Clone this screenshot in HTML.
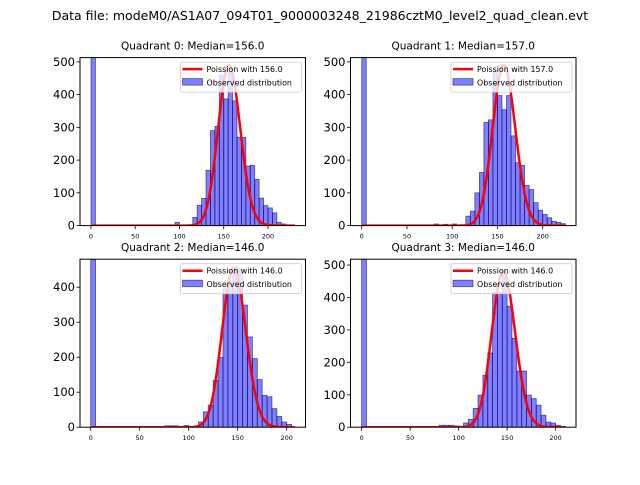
<!DOCTYPE html>
<html><head><meta charset="utf-8"><style>
body{margin:0;background:#fff;width:640px;height:480px;overflow:hidden}
svg{font-family:"DejaVu Sans","Liberation Sans",sans-serif}
</style></head><body>
<svg id="chart" width="640" height="480" xmlns="http://www.w3.org/2000/svg">
<text x="320" y="20" text-anchor="middle" font-size="12.5">Data file: modeM0/AS1A07_094T01_9000003248_21986cztM0_level2_quad_clean.evt</text>
</svg>
<script>
const binStarts0=[0,95,115,120,125,130,135,140,145,150,155,160,165,170,175,180,185,190,195,200,205,210,215];
const counts0=[1000,10,25,62,83,169,290,303,460,387,468,381,270,269,182,184,141,84,61,54,39,10,5];
const binStarts1=[0,80,90,100,115,120,125,130,135,140,145,150,155,160,165,170,175,180,185,190,195,200,205,210,215,220];
const counts1=[1000,5,4,5,29,44,100,162,315,323,473,397,354,397,274,192,184,123,110,70,47,34,24,13,10,6];
const binStarts2=[0,75,80,85,95,110,115,120,125,130,135,140,145,150,155,160,165,170,175,180,185,190,195,200];
const counts2=[1000,4,4,4,5,15,44,63,134,199,395,410,458,453,349,258,196,136,91,87,53,31,15,8];
const binStarts3=[0,80,85,90,95,105,110,115,120,125,130,135,140,145,150,155,160,165,170,175,180,185,190,195,200];
const counts3=[1000,6,6,6,4,13,24,58,99,160,229,415,415,474,373,274,173,173,99,88,68,37,16,13,6];
const medians=[156,157,146,146];
const curvePeaks=[490,490,455,480];
const curveEnds=[230,225,208,210];
const yTicks0=[0,100,200,300,400,500];
const yTicks2=[0,100,200,300,400];
const xTicks=[0,50,100,150,200];

const panels=[
 {b:binStarts0,c:counts0,L:80,R:305.5,T:57.6,B:225.6,x0:-12.4,x1:242.4,ymax:513,yt:yTicks0},
 {b:binStarts1,c:counts1,L:350.5,R:576,T:57.6,B:225.6,x0:-12.4,x1:236.8,ymax:513,yt:yTicks0},
 {b:binStarts2,c:counts2,L:80,R:305.5,T:259.2,B:427.2,x0:-10.9,x1:219.2,ymax:480,yt:yTicks2},
 {b:binStarts3,c:counts3,L:350.5,R:576,T:259.2,B:427.2,x0:-11.5,x1:221,ymax:518,yt:yTicks0}
];
const svg=document.getElementById('chart');
const NS='http://www.w3.org/2000/svg';
function mk(t,a,p){const e=document.createElementNS(NS,t);for(const k in a)e.setAttribute(k,a[k]);(p||svg).appendChild(e);return e;}
function lgam(n){let s=0;for(let i=2;i<=n;i++)s+=Math.log(i);return s;}
panels.forEach((p,qi)=>{
 const g=mk('g',{});
 
 
 const sx=v=>p.L+(v-p.x0)/(p.x1-p.x0)*(p.R-p.L);
 const sy=v=>p.B-Math.min(v,p.ymax)/p.ymax*(p.B-p.T);
 const clip=mk('clipPath',{id:'c'+qi},g);mk('rect',{x:p.L,y:p.T,width:p.R-p.L,height:p.B-p.T},clip);
 const bars=mk('g',{'clip-path':'url(#c'+qi+')'},g);
 p.b.forEach((s,i)=>{
  const r=mk('rect',{x:sx(s),y:sy(p.c[i]),width:sx(s+5)-sx(s),height:p.B-sy(p.c[i]),fill:'rgba(0,0,255,0.5)',stroke:'rgba(0,0,80,0.6)','stroke-width':0.8},bars);
  
  
 });
 const lam=medians[qi];const peakPmf=Math.exp(Math.floor(lam)*Math.log(lam)-lam-lgam(Math.floor(lam)));
 let d='';for(let k=0;k<=curveEnds[qi];k++){const pm=Math.exp(k*Math.log(Math.max(lam,1e-9))-lam-lgam(k));const v=pm/peakPmf*curvePeaks[qi];d+=(k?'L':'M')+sx(k+0.5).toFixed(2)+','+sy(v).toFixed(2);}
 const cv=mk('path',{d:d,fill:'none',stroke:'#ff0000','stroke-width':2.5,'clip-path':'url(#c'+qi+')'},g);
 
 
 mk('rect',{x:p.L,y:p.T,width:p.R-p.L,height:p.B-p.T,fill:'none',stroke:'#000','stroke-width':1},g);
 p.yt.forEach(v=>{const y=sy(v);mk('line',{x1:p.L-3.5,x2:p.L,y1:y,y2:y,stroke:'#000','stroke-width':0.8},g);
  const t=mk('text',{x:p.L-5,y:y+4,'text-anchor':'end','font-size':11.5},g);t.textContent=v;
  });
 xTicks.forEach(v=>{const x=sx(v);mk('line',{x1:x,x2:x,y1:p.B,y2:p.B+3.5,stroke:'#000','stroke-width':0.8},g);
  const t=mk('text',{x:x,y:p.B+13,'text-anchor':'middle','font-size':6.5},g);t.textContent=v;
  });
 const tt=mk('text',{x:(p.L+p.R)/2,y:p.T-8,'text-anchor':'middle','font-size':10.5},g);
 tt.textContent='Quadrant '+qi+': Median='+medians[qi].toFixed(1);
 
 const lg=mk('g',{},g);
 
 const lx=p.R-125,ly=p.T+4.5;
 mk('rect',{x:lx,y:ly,width:121,height:30,fill:'rgba(255,255,255,0.8)',stroke:'#ccc','stroke-width':0.8,rx:2},lg);
 mk('line',{x1:lx+2,x2:lx+22,y1:ly+7,y2:ly+7,stroke:'#f00','stroke-width':2.5},lg);
 const t1=mk('text',{x:lx+26,y:ly+10,'font-size':7.9},lg);t1.textContent='Poission with '+medians[qi].toFixed(1);
 mk('rect',{x:lx+2,y:ly+16.5,width:20,height:6.5,fill:'rgba(0,0,255,0.5)',stroke:'rgba(0,0,80,0.6)','stroke-width':0.8},lg);
 const t2=mk('text',{x:lx+26,y:ly+23.5,'font-size':7.9},lg);t2.textContent='Observed distribution';
});
</script>
</body></html>
